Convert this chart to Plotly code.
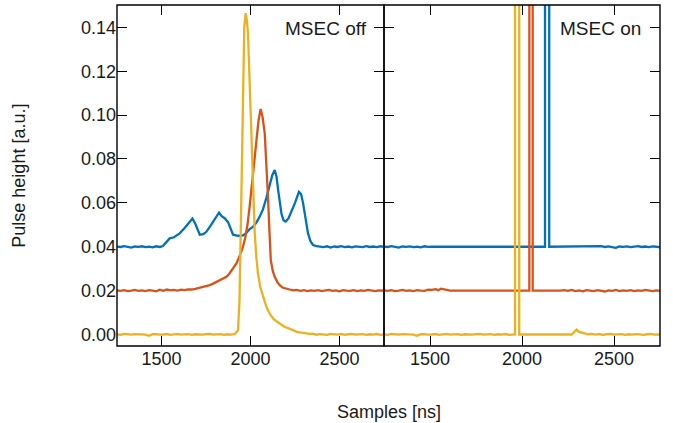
import plotly.graph_objects as go

# ---------------- data ----------------
# Left panel: MSEC off
blue_off_x = [1250,1270,1290,1310,1330,1350,1370,1390,1410,1430,1450,1470,1490,1508,
              1530,1546,1570,1602,1630,1655,1674,1690,1715,1735,1752,1775,1800,1823,
              1840,1855,1874,1890,1902,1930,1958,1975,1995,2015,2033,2050,2070,2090,
              2108,2122,2136,2146,2155,2165,2174,2186,2198,2214,2230,2250,2272,2284,
              2295,2310,2323,2337,2351,2370,2390,2410,2430,2450,2470,2490,2510,2530,
              2550,2570,2590,2610,2630,2650,2670,2690,2710,2730,2750]
blue_off_y = [0.0401,0.0399,0.0403,0.0398,0.0396,0.0401,0.0399,0.0402,0.0398,0.0400,
              0.0397,0.0402,0.0399,0.0403,0.0422,0.0438,0.0443,0.0461,0.0485,0.0512,
              0.0529,0.0505,0.0455,0.0457,0.0468,0.0495,0.0528,0.0555,0.0538,0.0530,
              0.0512,0.0475,0.0455,0.0450,0.0452,0.0462,0.0480,0.0492,0.0510,0.0535,
              0.0570,0.0625,0.0680,0.0725,0.0750,0.0720,0.0660,0.0590,0.0550,0.0520,
              0.0515,0.0530,0.0560,0.0600,0.0650,0.0640,0.0600,0.0520,0.0462,0.0425,
              0.0408,0.0403,0.0401,0.0398,0.0402,0.0396,0.0401,0.0399,0.0403,0.0398,
              0.0401,0.0397,0.0402,0.0400,0.0398,0.0403,0.0399,0.0401,0.0398,0.0402,
              0.0399]

orange_off_x = [1250,1270,1290,1310,1330,1350,1370,1390,1410,1430,1450,1470,1490,1510,
                1530,1550,1570,1590,1610,1630,1650,1670,1690,1710,1730,1750,1771,1790,
                1810,1830,1850,1865,1880,1895,1910,1921,1935,1948,1958,1970,1983,1995,
                2008,2020,2033,2045,2057,2068,2080,2090,2099,2107,2114,2125,2136,2150,
                2164,2180,2200,2220,2240,2260,2280,2300,2320,2340,2360,2380,2400,2420,
                2440,2460,2480,2500,2520,2540,2560,2580,2600,2620,2640,2660,2680,2700,
                2720,2740,2750]
orange_off_y = [0.0201,0.0199,0.0202,0.0198,0.0200,0.0203,0.0199,0.0201,0.0198,0.0202,
                0.0200,0.0197,0.0204,0.0199,0.0205,0.0201,0.0203,0.0200,0.0204,0.0202,
                0.0206,0.0205,0.0208,0.0212,0.0215,0.0219,0.0225,0.0232,0.0240,0.0248,
                0.0256,0.0263,0.0276,0.0292,0.0310,0.0324,0.0350,0.0375,0.0400,0.0440,
                0.0500,0.0582,0.0680,0.0790,0.0887,0.0975,0.1028,0.0990,0.0917,0.0780,
                0.0613,0.0460,0.0339,0.0290,0.0263,0.0240,0.0225,0.0214,0.0208,0.0205,
                0.0201,0.0203,0.0199,0.0202,0.0198,0.0201,0.0199,0.0202,0.0198,0.0200,
                0.0203,0.0199,0.0201,0.0197,0.0202,0.0200,0.0199,0.0202,0.0198,0.0201,
                0.0199,0.0203,0.0200,0.0198,0.0201,0.0199,0.0200]

yellow_off_x = [1250,1270,1290,1310,1330,1350,1370,1390,1410,1430,1450,1470,1490,1510,
                1530,1550,1570,1590,1610,1630,1650,1670,1690,1710,1730,1750,1770,1790,
                1810,1830,1850,1870,1890,1911,1930,1938,1945,1952,1958,1965,1973,1980,
                1986,1995,2005,2014,2024,2033,2042,2055,2070,2090,2108,2130,2150,2164,
                2190,2215,2239,2260,2285,2310,2333,2350,2370,2390,2410,2430,2450,2470,
                2490,2510,2530,2550,2570,2590,2610,2630,2650,2670,2690,2710,2730,2750]
yellow_off_y = [0.0001,-0.0002,0.0003,0.0000,-0.0001,0.0002,0.0001,-0.0003,-0.0001,-0.0006,
                0.0001,0.0002,-0.0001,0.0000,0.0002,-0.0002,0.0001,0.0003,-0.0001,0.0000,
                0.0002,-0.0002,0.0001,0.0000,-0.0001,0.0002,0.0003,-0.0001,0.0000,0.0002,
                -0.0002,0.0001,-0.0001,0.0001,0.0019,0.0150,0.0460,0.0850,0.1220,0.1400,
                0.1465,0.1430,0.1370,0.1150,0.0917,0.0650,0.0460,0.0350,0.0278,0.0215,
                0.0171,0.0125,0.0095,0.0070,0.0058,0.0050,0.0035,0.0028,0.0020,0.0012,
                0.0008,0.0005,0.0003,0.0004,-0.0001,0.0002,0.0000,-0.0002,0.0003,0.0000,
                -0.0001,0.0002,-0.0002,0.0001,0.0003,-0.0001,0.0000,0.0002,-0.0002,0.0001,
                -0.0001,0.0002,-0.0002,0.0000]

# Right panel: MSEC on (pulses clipped far above the axis)
blue_on_x = [1250,1270,1290,1310,1330,1350,1370,1390,1410,1430,1450,1470,1490,1509,
             2125,2125,2148,2148,2388,2410,2430,2450,2470,2490,2510,2530,2550,2570,
             2590,2610,2630,2650,2670,2690,2710,2730,2750]
blue_on_y = [0.0401,0.0399,0.0403,0.0398,0.0396,0.0401,0.0399,0.0402,0.0398,0.0400,
             0.0397,0.0402,0.0399,0.0400,0.0400,1.0,1.0,0.0400,0.0400,0.0401,0.0403,
             0.0399,0.0402,0.0398,0.0395,0.0401,0.0399,0.0402,0.0398,0.0401,0.0403,
             0.0399,0.0401,0.0398,0.0402,0.0400,0.0397]

orange_on_x = [1250,1270,1290,1310,1330,1350,1370,1390,1410,1430,1450,1470,1490,1510,
               1530,1545,1560,1575,1590,1609,2040,2040,2058,2058,2207,2230,2250,2270,
               2290,2310,2330,2350,2370,2390,2410,2430,2450,2470,2490,2510,2530,2550,
               2570,2590,2610,2630,2650,2670,2690,2710,2730,2750]
orange_on_y = [0.0201,0.0199,0.0202,0.0198,0.0200,0.0203,0.0199,0.0201,0.0198,0.0202,
               0.0200,0.0199,0.0204,0.0203,0.0207,0.0202,0.0209,0.0206,0.0203,0.0200,
               0.0200,1.0,1.0,0.0200,0.0200,0.0202,0.0199,0.0203,0.0198,0.0201,0.0197,
               0.0202,0.0200,0.0198,0.0202,0.0199,0.0196,0.0201,0.0199,0.0203,0.0198,
               0.0201,0.0199,0.0202,0.0198,0.0201,0.0199,0.0203,0.0200,0.0198,0.0201,
               0.0199]

yellow_on_x = [1250,1270,1290,1310,1330,1350,1370,1390,1410,1430,1450,1470,1490,1510,
               1530,1550,1570,1590,1610,1630,1650,1670,1690,1710,1730,1750,1770,1790,
               1810,1830,1850,1870,1890,1910,1930,1950,1962,1962,1985,1985,2270,2285,
               2297,2310,2325,2340,2360,2380,2400,2420,2440,2460,2480,2500,2520,2540,
               2560,2580,2600,2620,2640,2660,2680,2700,2720,2740,2750]
yellow_on_y = [0.0001,-0.0002,0.0003,0.0000,-0.0001,0.0002,0.0001,-0.0003,-0.0001,-0.0006,
               0.0001,0.0002,-0.0001,0.0000,0.0002,-0.0002,0.0001,0.0003,-0.0001,0.0000,
               0.0002,-0.0002,0.0001,0.0000,-0.0001,0.0002,0.0003,-0.0001,0.0000,0.0002,
               -0.0002,0.0001,-0.0001,0.0002,-0.0002,0.0001,0.0000,1.0,1.0,0.0000,0.0000,
               0.0012,0.0022,0.0012,0.0008,0.0004,0.0001,0.0003,-0.0001,0.0002,-0.0002,
               0.0001,0.0003,-0.0001,0.0000,0.0002,-0.0002,0.0001,-0.0001,0.0002,0.0000,
               -0.0002,0.0001,0.0003,-0.0001,0.0001,0.0000]

x_ticks = [1500, 2000, 2500]
y_ticks = [0.00, 0.02, 0.04, 0.06, 0.08, 0.10, 0.12, 0.14]
panel_titles = ["MSEC off", "MSEC on"]

BLUE, ORANGE, YELLOW = "#0072BD", "#D95319", "#EDB120"
FONT = "Liberation Sans"
TXT = "#1a1a1a"
LW = 2.3

fig = go.Figure()
for xs, ys, c, xa in [
    (blue_off_x, blue_off_y, BLUE, "x"),
    (orange_off_x, orange_off_y, ORANGE, "x"),
    (yellow_off_x, yellow_off_y, YELLOW, "x"),
    (blue_on_x, blue_on_y, BLUE, "x2"),
    (orange_on_x, orange_on_y, ORANGE, "x2"),
    (yellow_on_x, yellow_on_y, YELLOW, "x2"),
]:
    fig.add_trace(go.Scatter(x=xs, y=ys, mode="lines",
                             line=dict(color=c, width=LW),
                             xaxis=xa, yaxis="y" if xa == "x" else "y2",
                             showlegend=False, hoverinfo="skip"))

split = 267.0 / 543.0
common_x = dict(range=[1250, 2750], tickvals=x_ticks, ticks="inside", ticklen=10,
                tickwidth=1.3, tickcolor="black", showline=False,
                mirror="ticks", showgrid=False, zeroline=False,
                layer="below traces",
                tickfont=dict(family=FONT, size=18, color=TXT))
common_y = dict(range=[-0.00525, 0.1502], tickvals=y_ticks, ticks="inside", ticklen=10,
                tickwidth=1.3, tickcolor="black", showline=False,
                mirror="ticks", showgrid=False, zeroline=False,
                layer="below traces",
                tickformat=".2f", tickfont=dict(family=FONT, size=18, color=TXT))

# panel frames drawn above the traces
frames = [
    dict(type="rect", xref="x domain", yref="y domain", x0=0, x1=1, y0=0, y1=1,
         line=dict(color="black", width=1.4), fillcolor="rgba(0,0,0,0)", layer="above"),
    dict(type="rect", xref="x2 domain", yref="y2 domain", x0=0, x1=1, y0=0, y1=1,
         line=dict(color="black", width=1.4), fillcolor="rgba(0,0,0,0)", layer="above"),
]

fig.update_layout(
    width=673, height=423,
    margin=dict(l=117, r=13, t=5, b=77),
    paper_bgcolor="white", plot_bgcolor="white",
    xaxis=dict(domain=[0, split], anchor="y", **common_x),
    xaxis2=dict(domain=[split, 1], anchor="y2", **common_x),
    yaxis=dict(anchor="x", **common_y),
    yaxis2=dict(anchor="x2", showticklabels=False, **common_y),
    shapes=frames,
    annotations=[
        dict(text=panel_titles[0], xref="x domain", yref="y domain", x=0.944, y=0.932,
             xanchor="right", yanchor="middle", showarrow=False,
             font=dict(family=FONT, size=19, color=TXT)),
        dict(text=panel_titles[1], xref="x2 domain", yref="y2 domain", x=0.939, y=0.932,
             xanchor="right", yanchor="middle", showarrow=False,
             font=dict(family=FONT, size=19, color=TXT)),
        dict(text="Samples [ns]", xref="paper", yref="paper", x=0.5, y=-0.195,
             xanchor="center", yanchor="middle", showarrow=False,
             font=dict(family=FONT, size=18, color=TXT)),
        dict(text="Pulse height [a.u.]", xref="paper", yref="paper", x=-0.182, y=0.5,
             xanchor="center", yanchor="middle", showarrow=False, textangle=-90,
             font=dict(family=FONT, size=18, color=TXT)),
    ],
)

fig.write_html("out.html", config={"displayModeBar": False},
               post_script="document.body.style.margin='0';document.body.style.overflow='hidden';")
